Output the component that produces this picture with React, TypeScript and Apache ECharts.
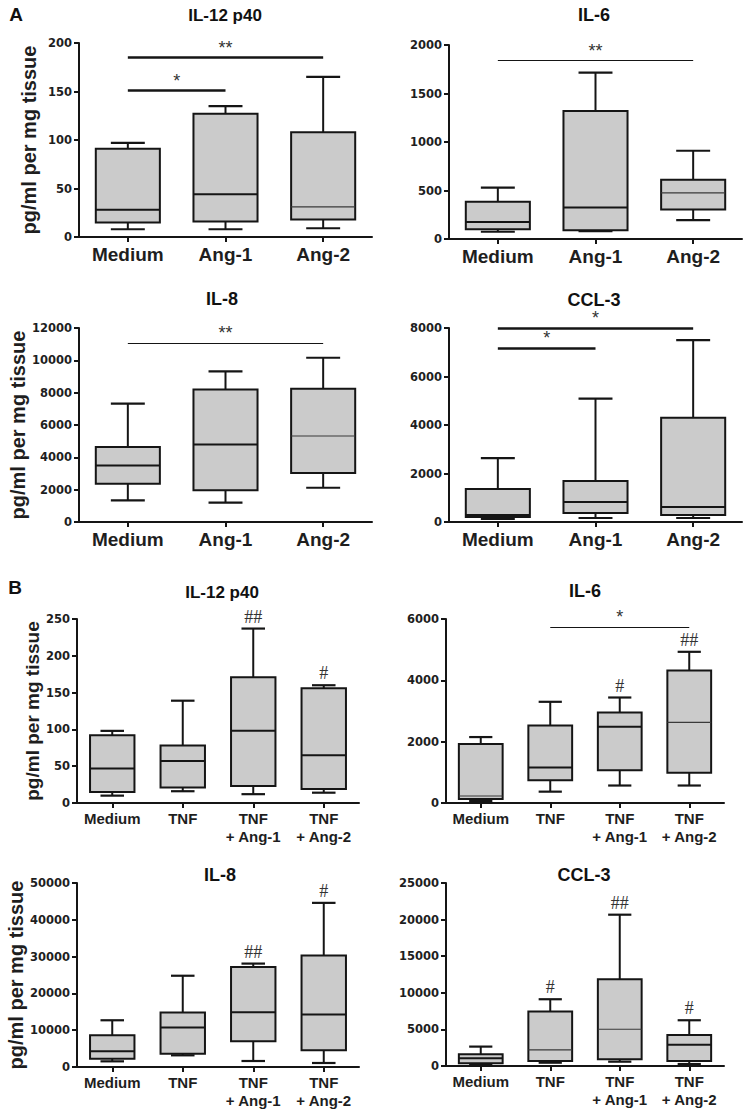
import React, { useEffect, useRef } from 'react';
import * as echarts from 'echarts';

// ---------- categories & labels ----------
const catsA = ['Medium', 'Ang-1', 'Ang-2'];
const catsB = ['Medium', 'TNF', 'TNF\n+ Ang-1', 'TNF\n+ Ang-2'];
const titles = ['IL-12 p40', 'IL-6', 'IL-8', 'CCL-3', 'IL-12 p40', 'IL-6', 'IL-8', 'CCL-3'];
const panelLetters = ['A', 'B'];
const yName = 'pg/ml per mg tissue';

// ---------- data: [min, Q1, median, Q3, max] ----------
const aIL12 = [[8, 15, 28, 91, 97], [8, 16, 44, 127, 135], [9, 18, 31, 108, 165]];
const aIL6 = [[75, 100, 175, 385, 530], [80, 90, 325, 1320, 1715], [195, 305, 475, 610, 910]];
const aIL8 = [[1340, 2370, 3500, 4640, 7320], [1200, 1960, 4800, 8200, 9320], [2120, 3030, 5320, 8250, 10160]];
const aCCL3 = [[124, 206, 290, 1360, 2630], [165, 370, 825, 1690, 5090], [165, 290, 620, 4300, 7500]];
const bIL12 = [[10, 15, 47, 92, 98], [16, 21, 57, 78, 139], [12, 23, 98, 171, 237], [14, 19, 65, 156, 160]];
const bIL6 = [[65, 130, 228, 1924, 2150], [370, 740, 1160, 2530, 3300], [570, 1070, 2490, 2950, 3440], [570, 990, 2630, 4320, 4930]];
const bIL8 = [[1540, 2260, 4250, 8600, 12700], [3170, 3620, 10700, 14800, 24800], [1630, 6970, 14900, 27200, 28100], [1090, 4530, 14300, 30300, 44600]];
const bCCL3 = [[140, 370, 1050, 1600, 2650], [450, 680, 2190, 7440, 9120], [590, 910, 5020, 11860, 20670], [270, 680, 2920, 4240, 6250]];

// hash marks above boxes (panel B)
const bIL12Hash = ['', '', '##', '#'];
const bIL6Hash = ['', '', '#', '##'];
const bIL8Hash = ['', '', '##', '#'];
const bCCL3Hash = ['', '#', '##', '#'];

// significance bars: from/to category index, level, mark
const aIL12Sig = [{ from: 0, to: 1, y: 151, mark: '*' }, { from: 0, to: 2, y: 185, mark: '**' }];
const aIL6Sig = [{ from: 0, to: 2, y: 1838, mark: '**' }];
const aIL8Sig = [{ from: 0, to: 2, y: 11070, mark: '**' }];
const aCCL3Sig = [{ from: 0, to: 1, y: 7170, mark: '*' }, { from: 0, to: 2, y: 8000, mark: '*' }];
const bIL6Sig = [{ from: 1, to: 3, y: 5740, mark: '*' }];

// y axes
const yMax = [200, 2000, 12000, 8000, 250, 6000, 50000, 25000];
const yStep = [50, 500, 2000, 2000, 50, 2000, 10000, 5000];

const panelData = [aIL12, aIL6, aIL8, aCCL3, bIL12, bIL6, bIL8, bCCL3];
const panelHash: (string[] | null)[] = [null, null, null, null, bIL12Hash, bIL6Hash, bIL8Hash, bCCL3Hash];
const panelSig: any[] = [aIL12Sig, aIL6Sig, aIL8Sig, aCCL3Sig, null, bIL6Sig, null, null];

// ---------- layout & styles ----------
const grids = [
  { left: 79, top: 43, width: 293, height: 194 },
  { left: 449, top: 45, width: 293, height: 194 },
  { left: 79, top: 328, width: 293, height: 194 },
  { left: 449, top: 328, width: 293, height: 194 },
  { left: 77, top: 619, width: 282, height: 184 },
  { left: 446, top: 619, width: 278, height: 184 },
  { left: 77, top: 883, width: 282, height: 184 },
  { left: 446, top: 883, width: 278, height: 183 },
];
const titlePos = [[225, 15], [594, 15], [222, 299], [594, 300], [222, 592], [585, 591], [220, 875], [584, 875]];
const letterPos = [[16, 14], [15, 587]];
const nameGaps = [40, 0, 42, 0, 28, 0, 40, 0];
const nameSizes = [20, 0, 20, 0, 19, 0, 20, 0];
const sigWidths = [2.5, 1.2, 1.2, 2.5, 0, 1.2, 0, 0];
const thinMedian = [
  [false, false, true], [false, false, true], [false, false, true], [false, false, false],
  [false, false, false, false], [true, false, false, true], [false, false, false, false], [false, true, true, false],
];

const STROKE = '#151515';
const FILL = '#cbcbcb';
const TEXT = '#1e1e1e';

function buildOption() {
  const isA = (i: number) => i < 4;
  const xAxis = grids.map((_, i) => ({
    gridIndex: i,
    type: 'category',
    data: isA(i) ? catsA : catsB,
    boundaryGap: true,
    axisLine: { show: true, lineStyle: { color: STROKE, width: 2 } },
    axisTick: { show: true, alignWithLabel: true, length: 5, lineStyle: { color: STROKE, width: 2 } },
    axisLabel: {
      color: TEXT,
      fontSize: isA(i) ? 19 : 15,
      fontWeight: 'bold',
      fontFamily: 'Liberation Sans',
      margin: 6,
      lineHeight: isA(i) ? 22 : 18,
      interval: 0,
    },
    splitLine: { show: false },
  }));
  const yAxis = grids.map((_, i) => ({
    gridIndex: i,
    type: 'value',
    min: 0,
    max: yMax[i],
    interval: yStep[i],
    axisLine: { show: true, lineStyle: { color: STROKE, width: 2 } },
    axisTick: { show: true, length: 5, lineStyle: { color: STROKE, width: 2 } },
    axisLabel: {
      color: TEXT,
      fontSize: 11.5,
      fontWeight: 'bold',
      fontFamily: 'DejaVu Sans',
      margin: 7,
      formatter: (v: number) => String(v),
    },
    splitLine: { show: false },
    name: nameGaps[i] ? yName : '',
    nameLocation: 'middle',
    nameGap: nameGaps[i],
    nameTextStyle: { color: TEXT, fontSize: nameSizes[i] || 20, fontWeight: 'bold', fontFamily: 'Liberation Sans' },
  }));

  const series = grids.map((_, i) => {
    const ratio = isA(i) ? 0.656 : 0.63;
    const thin = thinMedian[i];
    const hashes = panelHash[i];
    const sig = panelSig[i];
    const s: any = {
      type: 'custom',
      xAxisIndex: i,
      yAxisIndex: i,
      clip: false,
      data: panelData[i].map((d, k) => [k, ...d]),
      encode: { x: 0, y: [1, 2, 3, 4, 5] },
      renderItem: (params: any, api: any) => {
        const k = api.value(0);
        const ys = [1, 2, 3, 4, 5].map((d) => api.coord([k, api.value(d)])[1]);
        const cx = api.coord([k, 0])[0];
        const band = api.size([1, 0])[0];
        const bw = band * ratio;
        const cw = bw * 0.53;
        const [yMin, yQ1, yMed, yQ3, yTop] = ys;
        const line = (x1: number, y1: number, x2: number, y2: number, w = 2, c = STROKE) => ({
          type: 'line',
          shape: { x1, y1, x2, y2 },
          style: { stroke: c, lineWidth: w },
        });
        const children: any[] = [
          line(cx, yQ3, cx, yTop),
          line(cx, yQ1, cx, yMin),
          {
            type: 'rect',
            shape: { x: cx - bw / 2, y: yQ3, width: bw, height: yQ1 - yQ3 },
            style: { fill: FILL, stroke: STROKE, lineWidth: 2 },
          },
          line(cx - bw / 2, yMed, cx + bw / 2, yMed, thin[k] ? 1.2 : 2, thin[k] ? '#3a3a3a' : STROKE),
          line(cx - cw / 2, yTop, cx + cw / 2, yTop, 2.2),
          line(cx - cw / 2, yMin, cx + cw / 2, yMin, 2.2),
        ];
        if (hashes && hashes[k]) {
          children.push({
            type: 'text',
            x: cx,
            y: yTop - 12,
            style: {
              text: hashes[k],
              fontSize: 18,
              fontFamily: 'Liberation Serif',
              fill: '#333',
              align: 'center',
              verticalAlign: 'middle',
            },
          });
        }
        return { type: 'group', children };
      },
    };
    if (sig) {
      s.markLine = {
        silent: true,
        symbol: ['none', 'none'],
        precision: 0,
        lineStyle: { color: STROKE, width: sigWidths[i], type: 'solid' },
        label: {
          show: true,
          position: 'insideMiddleTop',
          formatter: '{b}',
          color: '#333',
          fontSize: 18,
          fontFamily: 'Liberation Sans',
          distance: 1,
        },
        data: sig.map((b: any) => [
          { name: b.mark, coord: [b.from, b.y] },
          { coord: [b.to, b.y] },
        ]),
      };
    }
    return s;
  });

  const graphic: any[] = [];
  titles.forEach((t, i) => {
    graphic.push({
      type: 'text',
      x: titlePos[i][0],
      y: titlePos[i][1],
      style: {
        text: t,
        fontSize: i === 0 || i === 4 ? 17 : 18,
        fontWeight: 'bold',
        fontFamily: 'Liberation Sans',
        fill: '#111',
        align: 'center',
        verticalAlign: 'middle',
      },
    });
  });
  panelLetters.forEach((l, i) => {
    graphic.push({
      type: 'text',
      x: letterPos[i][0],
      y: letterPos[i][1],
      style: {
        text: l,
        fontSize: 19,
        fontWeight: 'bold',
        fontFamily: 'Liberation Sans',
        fill: '#111',
        align: 'center',
        verticalAlign: 'middle',
      },
    });
  });

  return {
    animation: false,
    backgroundColor: '#ffffff',
    textStyle: { fontFamily: 'Liberation Sans' },
    grid: grids.map((g) => ({ ...g, containLabel: false })),
    xAxis,
    yAxis,
    series,
    graphic,
  };
}

export default function App() {
  const ref = useRef<HTMLDivElement>(null);
  useEffect(() => {
    document.body.style.margin = '0';
    if (!ref.current) return;
    const chart = echarts.init(ref.current, undefined, { renderer: 'svg' });
    chart.setOption(buildOption() as any);
    return () => chart.dispose();
  }, []);
  return (
    <div
      ref={ref}
      style={{ position: 'absolute', left: 0, top: 0, width: 745, height: 1112, background: '#fff' }}
    />
  );
}
